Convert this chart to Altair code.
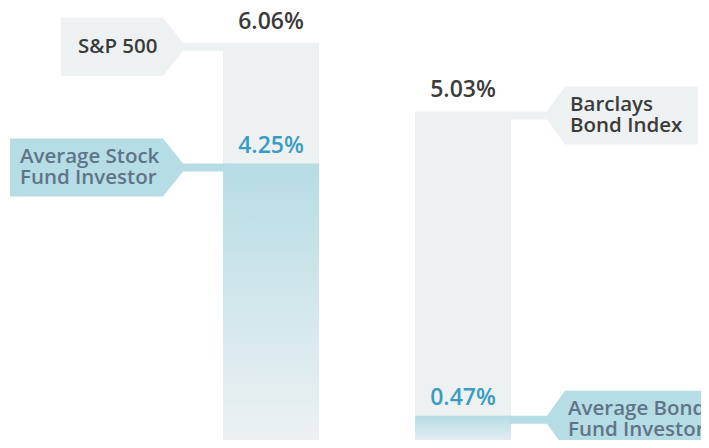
import altair as alt
import pandas as pd

# ---- data ----
benchmark_labels = ["S&P 500", "Barclays\nBond Index"]
benchmark_values = [6.06, 5.03]
investor_labels = ["Average Stock\nFund Investor", "Average Bond\nFund Investor"]
investor_values = [4.25, 0.47]

# ---- styles ----
GRAY = "#edf1f2"
BLUE = "#b6dce5"
BLUE_PALE = "#eef2f3"
DARK_TEXT = "#3b3b3b"
SLATE_TEXT = "#5f7587"
BLUE_TEXT = "#3a9cc2"
FONT = "Open Sans"
LINE_H = 21.5

# ---- layout (pixels of the plot area) ----
W, H = 693, 432
PX = 66.7          # pixels per percentage point
Y0 = 439           # pixel row of the 0% level
y_lo = (Y0 - H) / PX
y_hi = Y0 / PX
xs = alt.Scale(domain=[0, W], range=[0, W], nice=False, zero=False)
ys = alt.Scale(domain=[y_lo, y_hi], nice=False, zero=False)

bar_centers = [263, 455]
bar_w = 96
conn = 8 / PX       # connector thickness
half = 29 / PX      # half height of a callout box

# callout geometry per bar: (box_outer, box_inner, tip, bar_edge) for gray / blue
callout_x = {
    0: {"gray": [53, 155, 175, 217], "blue": [2, 155, 175, 217]},
    1: {"gray": [690, 557, 539, 501], "blue": [720, 557, 539, 501]},
}
text_x = {0: {"gray": 70, "blue": 12}, 1: {"gray": 562, "blue": 560}}

bars_gray, bars_blue, shapes, labels, values = [], [], [], [], []
for i in range(2):
    c = bar_centers[i]
    for kind, val, lab in (("gray", benchmark_values[i], benchmark_labels[i]),
                           ("blue", investor_values[i], investor_labels[i])):
        row = {"x0": c - bar_w / 2, "x1": c + bar_w / 2, "top": val, "base": 0}
        (bars_gray if kind == "gray" else bars_blue).append(row)
        mid = val - conn / 2
        xo, xi, xt, xe = callout_x[i][kind]
        col = GRAY if kind == "gray" else BLUE
        cid = f"{i}-{kind}"
        for x, yt, yb in ((xo, mid + half, mid - half), (xi, mid + half, mid - half),
                          (xt, val, val - conn), (xe, val, val - conn)):
            shapes.append({"id": cid, "x": x, "yt": yt, "yb": yb, "color": col})
        n_lines = lab.count("\n") + 1
        labels.append({"x": text_x[i][kind],
                       "y": mid + (n_lines - 1) * (LINE_H / 2) / PX,
                       "text": lab,
                       "color": DARK_TEXT if kind == "gray" else SLATE_TEXT})
        values.append({"x": c, "y": val, "text": f"{val:.2f}%", "kind": kind})

df_gray = pd.DataFrame(bars_gray)
df_blue = pd.DataFrame(bars_blue)
df_shapes = pd.DataFrame(shapes)
df_labels = pd.DataFrame(labels)
df_values = pd.DataFrame(values)

gray_bars = alt.Chart(df_gray).mark_bar(color=GRAY, clip=True).encode(
    x=alt.X("x0:Q", scale=xs, axis=None), x2="x1:Q",
    y=alt.Y("top:Q", scale=ys, axis=None), y2="base:Q",
)

blue_bars = alt.Chart(df_blue).mark_bar(
    clip=True,
    color=alt.Gradient(
        gradient="linear",
        stops=[alt.GradientStop(color=BLUE, offset=0),
               alt.GradientStop(color=BLUE_PALE, offset=1)],
        x1=0, x2=0, y1=0, y2=1,
    ),
).encode(
    x=alt.X("x0:Q", scale=xs, axis=None), x2="x1:Q",
    y=alt.Y("top:Q", scale=ys, axis=None), y2="base:Q",
)

def callouts(kind_color):
    return alt.Chart(df_shapes[df_shapes["color"] == kind_color]).mark_area(
        clip=True, interpolate="linear"
    ).encode(
        x=alt.X("x:Q", scale=xs, axis=None),
        y=alt.Y("yt:Q", scale=ys, axis=None), y2="yb:Q",
        detail="id:N",
        color=alt.Color("color:N", scale=None),
    )

label_text = alt.Chart(df_labels).mark_text(
    align="left", baseline="middle", font=FONT, fontWeight=600,
    fontSize=20.5, lineBreak="\n", lineHeight=LINE_H,
).encode(
    x=alt.X("x:Q", scale=xs, axis=None),
    y=alt.Y("y:Q", scale=ys, axis=None),
    text="text:N",
    color=alt.Color("color:N", scale=None),
)

value_gray = alt.Chart(df_values[df_values["kind"] == "gray"]).mark_text(
    align="center", baseline="alphabetic", font=FONT, fontWeight=600,
    fontSize=23, dy=-14, color=DARK_TEXT,
).encode(
    x=alt.X("x:Q", scale=xs, axis=None),
    y=alt.Y("y:Q", scale=ys, axis=None),
    text="text:N",
)

value_blue = alt.Chart(df_values[df_values["kind"] == "blue"]).mark_text(
    align="center", baseline="alphabetic", font=FONT, fontWeight=600,
    fontSize=23, dy=-11, color=BLUE_TEXT,
).encode(
    x=alt.X("x:Q", scale=xs, axis=None),
    y=alt.Y("y:Q", scale=ys, axis=None),
    text="text:N",
)

chart = alt.layer(
    gray_bars, callouts(GRAY), blue_bars, callouts(BLUE),
    label_text, value_gray, value_blue,
).properties(
    width=W, height=H, padding=0, background="white",
    autosize=alt.AutoSizeParams(type="none"),
).configure_view(stroke=None)

chart.save("out.html", embed_options={"renderer": "svg", "actions": False})
